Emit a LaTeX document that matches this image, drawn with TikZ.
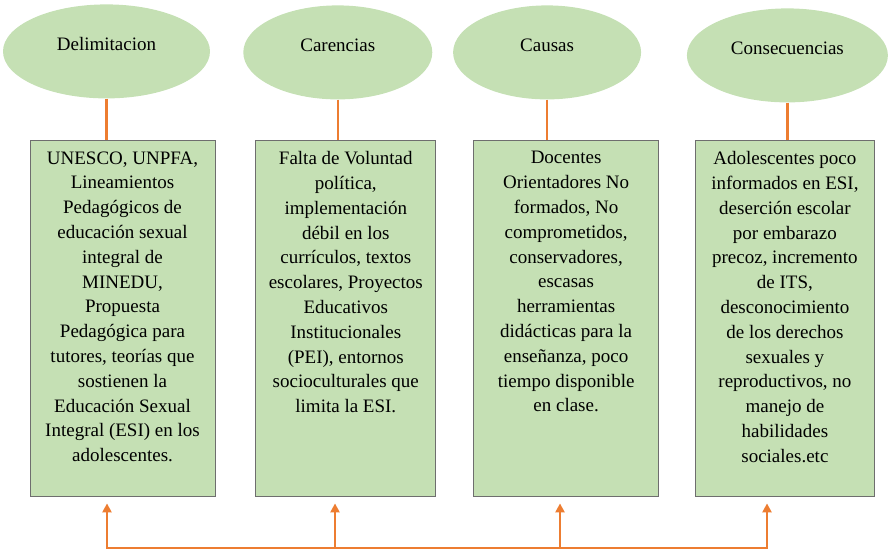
\documentclass[tikz,border=0pt]{standalone}
\usepackage{xcolor}
\usepackage{fontspec}
\setmainfont{Liberation Serif}
\usepackage{tikz}
\usetikzlibrary{shapes.geometric, arrows.meta, positioning}
\definecolor{softgreen}{HTML}{C5E0B4}
\definecolor{boxgray}{HTML}{6E6E6E}
\definecolor{linkorange}{HTML}{ED7D31}
\newcommand{\detailtext}[2]{\parbox[t][333pt][t]{#1}{\centering #2}}
\tikzstyle{topic} = [ellipse, fill=softgreen, minimum height=94pt, text height=14pt, text depth=15pt, font=\fontsize{19}{24}\selectfont]
\tikzstyle{detail} = [rectangle, draw=boxgray, line width=0.8pt, fill=softgreen, inner xsep=0pt, inner ysep=11.5pt, font=\fontsize{19}{24.8}\selectfont]
\tikzstyle{link} = [draw=linkorange, line width=2.4pt]
\tikzstyle{arrow} = [link, ->, >={Triangle[width=9pt,length=9pt]}, shorten >=7pt]

\begin{document}
\begin{tikzpicture}[x=1pt, y=-1pt, node distance=40pt]
            \useasboundingbox (0,0) rectangle (888,552);

            \node[detail] (b1) at (122.5,318) {\detailtext{185pt}{UNESCO, UNPFA,\\ Lineamientos\\ Pedagógicos de\\ educación sexual\\ integral de\\ MINEDU,\\ Propuesta\\ Pedagógica para\\ tutores, teorías que\\ sostienen la\\ Educación Sexual\\ Integral (ESI) en los\\ adolescentes.}};
            \node[detail, right=40pt of b1] (b2) {\detailtext{180pt}{Falta de Voluntad\\ política,\\ implementación\\ débil en los\\ currículos, textos\\ escolares, Proyectos\\ Educativos\\ Institucionales\\ (PEI), entornos\\ socioculturales que\\ limita la ESI.}};
            \node[detail, right=37pt of b2] (b3) {\detailtext{185pt}{Docentes\\ Orientadores No\\ formados, No\\ comprometidos,\\ conservadores,\\ escasas\\ herramientas\\ didácticas para la\\ enseñanza, poco\\ tiempo disponible\\ en clase.}};
            \node[detail, right=36pt of b3] (b4) {\detailtext{179pt}{Adolescentes poco\\ informados en ESI,\\ deserción escolar\\ por embarazo\\ precoz, incremento\\ de ITS,\\ desconocimiento\\ de los derechos\\ sexuales y\\ reproductivos, no\\ manejo de\\ habilidades\\ sociales.etc}};

            \node[topic, minimum width=207pt, above=41pt of b1, xshift=-16pt] (e1) {Delimitacion};
            \node[topic, minimum width=189pt, above=40pt of b2, xshift=-8pt] (e2) {Carencias};
            \node[topic, minimum width=188pt, above=40pt of b3, xshift=-19pt] (e3) {Causas};
            \node[topic, minimum width=201pt, above=37pt of b4, xshift=2.5pt] (e4) {Consecuencias};

            \foreach \i in {1,...,4}
                \draw[link] (e\i.south) -- (e\i.south |- b\i.north);

            % bottom bracket
            \coordinate (base1) at (107,548);
            \coordinate (base2) at (335,548);
            \coordinate (base3) at (560,548);
            \coordinate (base4) at (767,548);
            \draw[link, line cap=rect] (base1) -- (base4);
            \foreach \i in {1,...,4}
                \draw[arrow] (base\i) -- (base\i |- b\i.south);
        \end{tikzpicture}
\end{document}
